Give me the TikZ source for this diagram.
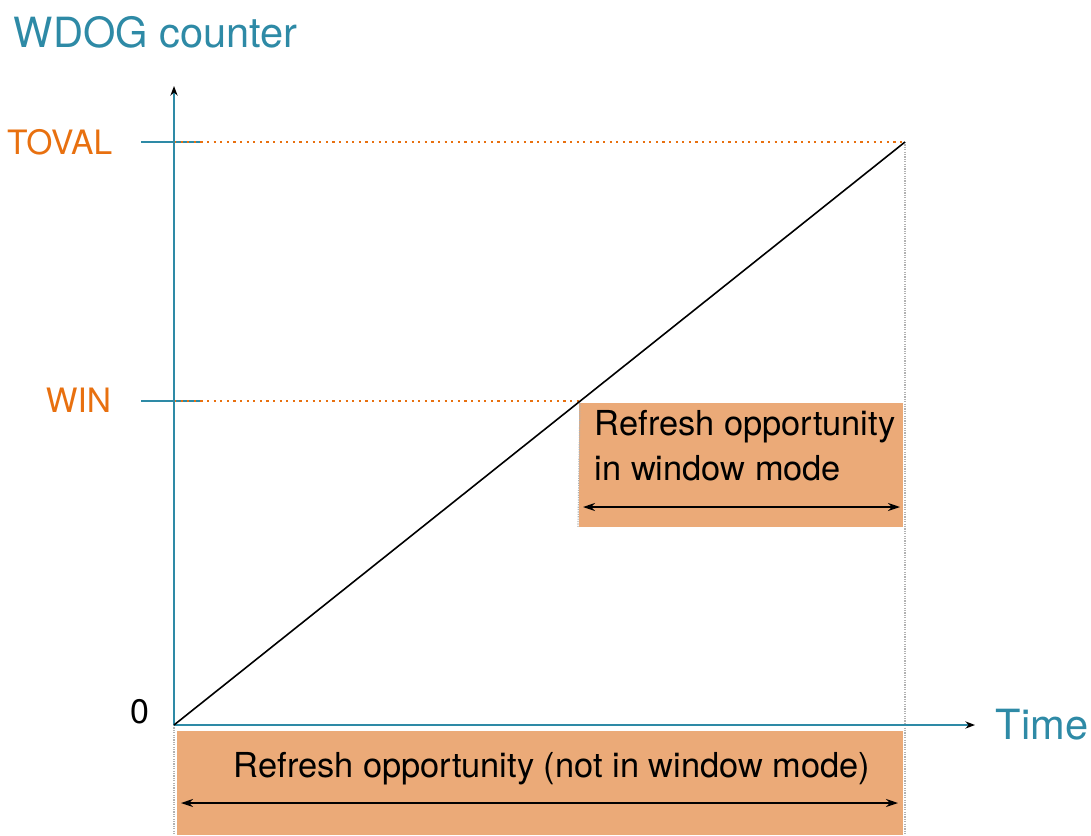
\documentclass[tikz,border=0pt]{standalone}
\usepackage{fontspec}
\setmainfont{TeX Gyre Heros}
\usetikzlibrary{arrows.meta,positioning}
\definecolor{axisteal}{HTML}{2E8AA6}
\definecolor{valorange}{HTML}{E8700F}
\definecolor{boxorange}{HTML}{EBAA78}

\begin{document}
\begin{tikzpicture}[x=0.25pt, y=-0.25pt, every node/.style={inner sep=0pt},
  axisline/.style={axisteal, line width=0.4pt},
  levelline/.style={valorange, line width=0.55pt, dash pattern=on 0.55pt off 1.1pt},
  guideline/.style={black!30, line width=0.3pt, dash pattern=on 0.3pt off 0.3pt},
  spanarrow/.style={black, line width=0.45pt, {Stealth[length=3pt,width=2pt]}-{Stealth[length=3pt,width=2pt]}},
  axislabel/.style={text=axisteal, font=\fontsize{10.4}{12}\selectfont},
  levellabel/.style={text=valorange, font=\fontsize{8.4}{10}\selectfont},
  boxtext/.style={font=\fontsize{8.6}{11.25}\selectfont, align=left}]

  \useasboundingbox (0,0) rectangle (1091,835);

  % Key points of the counter ramp.
  \coordinate (O) at (174,725);
  \coordinate (ytip) at (174,86);
  \coordinate (xtip) at (975,725);
  \coordinate (top) at (905,142);
  \coordinate (win) at (580,401);

  % Refresh windows (shaded).
  \fill[boxorange] (579,403) rectangle (903,527);
  \fill[boxorange] (177,731) rectangle (903,835);

  % Grey guides down to the time axis.
  \draw[guideline] (top) -- (905,835);
  \draw[guideline] (O) -- (174,835);
  \draw[guideline] (win) -- (578,527);

  % Level lines and ticks.
  \foreach \lvl/\y in {top/142, win/401}{
    \draw[axisline] (141,\y) -- (200,\y);
    \draw[levelline] (174,\y) -- (\lvl);
  }

  % Axes.
  \draw[axisline, -{Stealth[length=2.4pt,width=1.8pt,black]}] (O) -- (ytip);
  \draw[axisline, -{Stealth[length=2.4pt,width=1.8pt,black]}] (O) -- (xtip);

  % Counter ramp.
  \draw[black, line width=0.4pt] (O) -- (top);

  % Labels.
  \node[axislabel, anchor=west] (lbl-counter) at (13,32) {WDOG counter};
  \node[axislabel, anchor=west] (lbl-time) at (995,725) {Time};
  \node[levellabel, anchor=east] (lbl-toval) at (113,142) {TOVAL};
  \node[levellabel, anchor=east] (lbl-win) at (112,400) {WIN};
  \node[font=\fontsize{8.5}{10}\selectfont] (lbl-zero) at (140,712) {0};

  % Window-mode refresh opportunity.
  \node[boxtext, anchor=north west] (txt-win) at (594,410)
    {Refresh opportunity\\in window mode};
  \coordinate (winL) at (583,507);
  \coordinate (winR) at (900,507);
  \draw[spanarrow] (winL) -- (winR);

  % Full-range refresh opportunity.
  \node[boxtext] (txt-all) at (552,769) {Refresh opportunity (not in window mode)};
  \coordinate (allL) at (181,803);
  \coordinate (allR) at (898,803);
  \draw[spanarrow] (allL) -- (allR);
\end{tikzpicture}
\end{document}
